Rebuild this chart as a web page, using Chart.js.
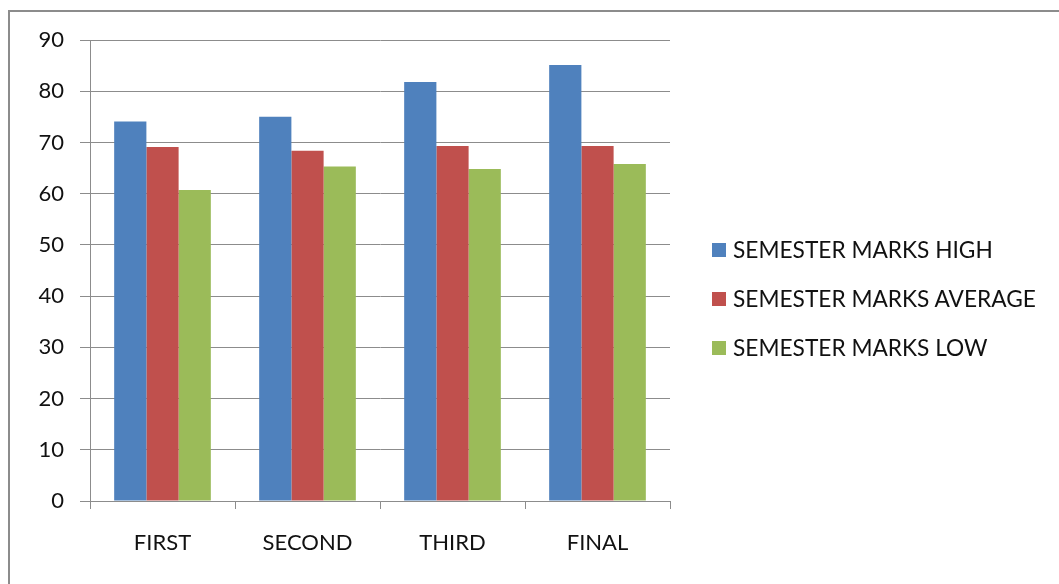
<!DOCTYPE html>
<html>
<head>
<meta charset="utf-8">
<script src="https://cdn.jsdelivr.net/npm/chart.js@4.4.1/dist/chart.umd.min.js"></script>
<style>
  html, body { margin: 0; padding: 0; background: #fff; overflow: hidden; }
  #wrap { position: relative; width: 1059px; height: 584px; overflow: hidden; }
  #frame { position: absolute; left: 8px; top: 10px; width: 1100px; height: 620px;
           border: 2px solid #8c8c8c; box-sizing: border-box; }
  #c { position: absolute; left: 0; top: 0; }
  #legend { position: absolute; left: 712px; top: 236px; margin: 0; padding: 0; list-style: none;
            font-family: Lato, "Open Sans", sans-serif; font-size: 22.7px; color: #111; }
  #legend li { height: 49px; display: flex; align-items: flex-start; white-space: nowrap; }
  #legend .box { width: 14px; height: 14px; margin-top: 7px; margin-right: 7px; display: inline-block; }
</style>
</head>
<body>
<div id="wrap">
  <div id="frame"></div>
  <canvas id="c" width="1059" height="584"></canvas>
  <ul id="legend"></ul>
</div>
<script>
const categories = ['FIRST', 'SECOND', 'THIRD', 'FINAL'];
const marksHigh = [74.1, 75.0, 81.8, 85.1];
const marksAverage = [69.1, 68.4, 69.3, 69.3];
const marksLow = [60.7, 65.3, 64.8, 65.8];
const seriesNames = ['SEMESTER MARKS HIGH', 'SEMESTER MARKS AVERAGE', 'SEMESTER MARKS LOW'];
const seriesColors = ['#4F81BD', '#C0504D', '#9BBB59'];
const yTicks = [0, 10, 20, 30, 40, 50, 60, 70, 80, 90];

const font = { family: 'Lato, "Open Sans", sans-serif', size: 22 };
const gridColor = '#8c8c8c';

const chart = new Chart(document.getElementById('c'), {
  type: 'bar',
  data: {
    labels: categories,
    datasets: [marksHigh, marksAverage, marksLow].map((vals, i) => ({
      label: seriesNames[i],
      data: vals,
      backgroundColor: seriesColors[i],
      borderWidth: 0,
      categoryPercentage: 3 / 4.5,
      barPercentage: 1.0
    }))
  },
  options: {
    responsive: false,
    animation: false,
    layout: { padding: { left: 0, top: 40, right: 389, bottom: 0 } },
    plugins: {
      legend: { display: false },
      tooltip: { enabled: false }
    },
    scales: {
      x: {
        offset: true,
        afterFit: s => { s.height = 83; },
        grid: { offset: true, drawOnChartArea: false, color: gridColor, lineWidth: 1, tickLength: 8 },
        border: { color: gridColor, width: 1 },
        ticks: { color: '#111', font, padding: 21, maxRotation: 0 }
      },
      y: {
        min: 0,
        max: 90,
        afterFit: s => { s.width = 90; },
        afterBuildTicks: s => { s.ticks = yTicks.map(v => ({ value: v })); },
        grid: { color: gridColor, lineWidth: 1, tickLength: 10 },
        border: { color: gridColor, width: 1 },
        ticks: { color: '#111', font, padding: 16, stepSize: 10 }
      }
    }
  }
});

// HTML legend built from the chart's own legend items
const ul = document.getElementById('legend');
chart.options.plugins.legend.labels.generateLabels(chart).forEach(item => {
  const li = document.createElement('li');
  const box = document.createElement('span');
  box.className = 'box';
  box.style.background = item.fillStyle;
  li.appendChild(box);
  li.appendChild(document.createTextNode(item.text));
  ul.appendChild(li);
});
</script>
</body>
</html>
